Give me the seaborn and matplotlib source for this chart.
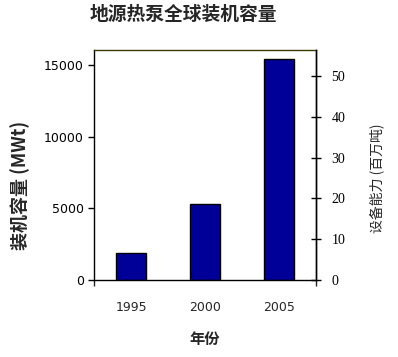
import matplotlib
matplotlib.use("Agg")
import matplotlib.pyplot as plt
import seaborn as sns
import pandas as pd
from matplotlib.ticker import FixedLocator

years = ["1995", "2000", "2005"]
capacity_mwt = [1854, 5275, 15384]
left_ticks = [0, 5000, 10000, 15000]
right_ticks = [0, 10, 20, 30, 40, 50]

title = "地源热泵全球装机容量"
xlabel = "年份"
ylabel_left = "装机容量 (MWt)"
ylabel_right = "设备能力 (百万吨)"

sns.set_style("white")
plt.rcParams['font.family'] = ['Noto Sans CJK SC', 'DejaVu Sans']

df = pd.DataFrame({"year": years, "cap": capacity_mwt})

fig = plt.figure(figsize=(3.98, 3.57), dpi=100)
ax = fig.add_axes([0.237, 0.2157, 0.556, 0.643])

sns.barplot(data=df, x="year", y="cap", color="#000099", edgecolor="black",
            linewidth=1.0, width=0.41, saturation=1, ax=ax)

ax.set_xlim(-0.5, 2.5)
ax.set_ylim(0, 16000)
ax.set_yticks(left_ticks)
ax.set_yticklabels([str(v) for v in left_ticks], fontfamily="DejaVu Sans", fontsize=9)
ax.tick_params(axis="y", direction="out", length=4.5, width=1, pad=3, left=True, colors="black")

# x tick labels at category centres, small tick marks only at the edges
ax.tick_params(axis="x", which="major", length=0, pad=15, labelsize=9, bottom=True)
for lbl in ax.get_xticklabels():
    lbl.set_fontfamily("DejaVu Sans")
ax.xaxis.set_minor_locator(FixedLocator([-0.5, 2.5]))
ax.tick_params(axis="x", which="minor", direction="out", length=4, width=1, bottom=True)

for s in ["left", "bottom", "right"]:
    ax.spines[s].set_color("black")
    ax.spines[s].set_linewidth(1.0)
ax.spines["top"].set_color("#3a3a00")
ax.spines["top"].set_linewidth(1.0)

ax.set_xlabel(xlabel, fontsize=11, fontweight="bold", labelpad=12)
ax.set_ylabel(ylabel_left, fontsize=13, fontweight="bold")
ax.yaxis.set_label_coords(-0.29, 0.414)

ax2 = ax.twinx()
ax2.set_ylim(0, 56.3)
ax2.set_yticks(right_ticks)
ax2.set_yticklabels([str(v) for v in right_ticks], fontfamily="Liberation Serif", fontsize=10)
ax2.tick_params(axis="y", direction="inout", length=7, width=1, pad=8, right=True, colors="black")
for s in ["left", "bottom", "top"]:
    ax2.spines[s].set_visible(False)
ax2.spines["right"].set_color("black")
ax2.spines["right"].set_linewidth(1.0)
ax2.set_ylabel(ylabel_right, fontsize=10, rotation=90)
ax2.yaxis.set_label_coords(1.241, 0.444)

fig.text(0.461, 0.96, title, ha="center", va="center", fontsize=13.5, fontweight="bold")

fig.savefig("out.png", dpi=100)
